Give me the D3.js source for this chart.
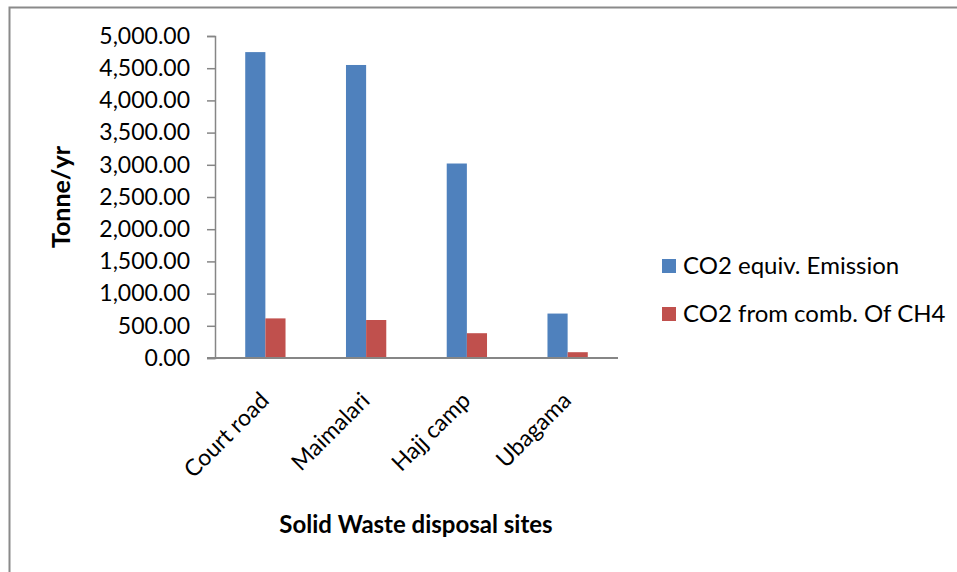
<!DOCTYPE html>
<html>
<head>
<meta charset="utf-8">
<script src="https://cdn.jsdelivr.net/npm/d3@7"></script>
<style>
  body { margin: 0; background: #fff; }
  text { font-family: Lato, "Noto Sans", sans-serif; fill: #000; }
</style>
</head>
<body>
<div id="chart"></div>
<script>
// Data
const sites = ['Court road', 'Maimalari', 'Hajj camp', 'Ubagama']
const seriesNames = ['CO2 equiv. Emission', 'CO2 from comb. Of CH4']
const co2Equiv = [4750, 4550, 3020, 690]
const co2Comb = [615, 590, 385, 90]
const yTicks = [0, 500, 1000, 1500, 2000, 2500, 3000, 3500, 4000, 4500, 5000]
const colors = ['#4F81BD', '#C0504D']

function draw() {
  const dimensions = {
    width: 957,
    height: 572,
    left: 215,
    right: 618,
    top: 36,
    bottom: 358
  }

  const svg = d3.select('#chart')
    .append('svg')
    .attr('width', dimensions.width)
    .attr('height', dimensions.height)

  // outer frame (page border)
  svg.append('path')
    .attr('d', `M9.5,${dimensions.height} V7.5 H${dimensions.width}`)
    .attr('fill', 'none')
    .attr('stroke', '#8a8a8a')
    .attr('stroke-width', 2)

  // Scales
  const xScale = d3.scaleBand()
    .domain(sites)
    .range([dimensions.left, dimensions.right])

  const xInner = d3.scaleBand()
    .domain(seriesNames)
    .range([0, xScale.bandwidth()])
    .paddingInner(0)
    .paddingOuter(1.5)

  const yScale = d3.scaleLinear()
    .domain([0, 5000])
    .range([dimensions.bottom, dimensions.top])

  const rows = sites.map((s, i) => ({ site: s, values: [co2Equiv[i], co2Comb[i]] }))

  // Bars
  const groups = svg.append('g')
    .selectAll('g')
    .data(rows)
    .join('g')
    .attr('transform', d => `translate(${xScale(d.site)},0)`)

  groups.selectAll('rect')
    .data(d => d.values.map((v, j) => ({ key: seriesNames[j], value: v, idx: j })))
    .join('rect')
    .attr('x', d => xInner(d.key))
    .attr('width', xInner.bandwidth())
    .attr('y', d => yScale(d.value))
    .attr('height', d => yScale(0) - yScale(d.value))
    .attr('fill', d => colors[d.idx])

  // Y axis
  const yAxis = d3.axisLeft(yScale)
    .tickValues(yTicks)
    .tickSize(8)
    .tickPadding(17)
    .tickFormat(d3.format(',.2f'))

  const yAxisGroup = svg.append('g')
    .attr('transform', `translate(${dimensions.left},0)`)
    .call(yAxis)

  yAxisGroup.select('.domain').attr('stroke', '#868686').attr('stroke-width', 1.5)
  yAxisGroup.selectAll('.tick line').attr('stroke', '#868686').attr('stroke-width', 1.5)
  yAxisGroup.selectAll('.tick text')
    .style('font-size', '23px')
    .attr('fill', '#000')

  // X axis line
  svg.append('line')
    .attr('x1', dimensions.left - 8)
    .attr('x2', dimensions.right)
    .attr('y1', dimensions.bottom)
    .attr('y2', dimensions.bottom)
    .attr('stroke', '#868686')
    .attr('stroke-width', 2)

  // category labels, rotated
  svg.append('g')
    .selectAll('text')
    .data(sites)
    .join('text')
    .attr('transform', d => `translate(${xScale(d) + xScale.bandwidth() / 2 + 5},${dimensions.bottom + 44}) rotate(-45)`)
    .attr('text-anchor', 'end')
    .style('font-size', '23px')
    .text(d => d)

  // Axis titles
  svg.append('text')
    .attr('x', 416)
    .attr('y', 533)
    .attr('text-anchor', 'middle')
    .style('font-size', '24px')
    .style('font-weight', 'bold')
    .text('Solid Waste disposal sites')

  svg.append('text')
    .attr('transform', `translate(70,197) rotate(-90)`)
    .attr('text-anchor', 'middle')
    .style('font-size', '25px')
    .style('font-weight', 'bold')
    .text('Tonne/yr')

  // Legend
  const legend = svg.append('g')
    .selectAll('g')
    .data(seriesNames)
    .join('g')
    .attr('transform', (d, i) => `translate(662,${266 + i * 48})`)

  legend.append('rect')
    .attr('x', 0)
    .attr('y', -7)
    .attr('width', 14)
    .attr('height', 14)
    .attr('fill', (d, i) => colors[i])

  legend.append('text')
    .attr('x', 21)
    .attr('dy', '0.35em')
    .style('font-size', '24px')
    .text(d => d)
}

draw()
</script>
</body>
</html>
